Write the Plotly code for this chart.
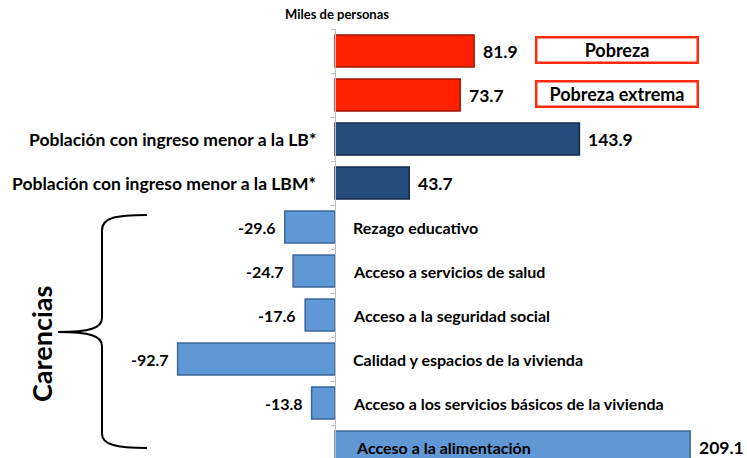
import plotly.graph_objects as go

categories = ["Pobreza", "Pobreza extrema",
              "Población con ingreso menor a la LB*",
              "Población con ingreso menor a la LBM*",
              "Rezago educativo", "Acceso a servicios de salud",
              "Acceso a la seguridad social", "Calidad y espacios de la vivienda",
              "Acceso a los servicios básicos de la vivienda",
              "Acceso a la alimentación"]
values = [81.9, 73.7, 143.9, 43.7, -29.6, -24.7, -17.6, -92.7, -13.8, 209.1]
groups = ["pobreza", "pobreza", "ingreso", "ingreso",
          "carencia", "carencia", "carencia", "carencia", "carencia", "carencia"]

fill = {"pobreza": "#FF2200", "ingreso": "#244B79", "carencia": "#5F98D4"}
edge = {"pobreza": "#A01500", "ingreso": "#122A4C", "carencia": "#3B679B"}

W, H = 747, 458
TOP = 29
XMIN, XMAX = -197.3, 242.6
FONT = "Lato"

fig = go.Figure()
fig.add_trace(go.Bar(
    y=categories, x=values, orientation="h",
    marker=dict(color=[fill[g] for g in groups],
                line=dict(color=[edge[g] for g in groups], width=1.5)),
    hoverinfo="skip", cliponaxis=False,
))

ann = []
for i, (c, v, g) in enumerate(zip(categories, values, groups)):
    big = g != "carencia" or v > 0
    ann.append(dict(x=v, y=c, xref="x", yref="y", text=f"{v:.1f}",
                    xanchor="left" if v > 0 else "right", yanchor="middle",
                    xshift=7 if v > 0 else -7, showarrow=False,
                    font=dict(family=FONT, size=17.5 if big else 16, color="black", weight="bold")))
    if g == "ingreso":
        ann.append(dict(x=0, y=c, xref="x", yref="y", text=c, xanchor="right", yanchor="middle",
                        xshift=-17, showarrow=False,
                        font=dict(family=FONT, size=17.5, color="black", weight="bold")))
    elif g == "carencia":
        ann.append(dict(x=0, y=c, xref="x", yref="y", text=c, xanchor="left", yanchor="middle",
                        xshift=16 if v < 0 else 19, showarrow=False,
                        font=dict(family=FONT, size=16, color="black", weight="bold")))
    elif g == "pobreza":
        ann.append(dict(x=617 / W, y=c, xref="paper", yref="y", text=c,
                        xanchor="center", yanchor="middle",
                        showarrow=False, width=157, height=21, yshift=1,
                        bordercolor="#FF2A10", borderwidth=2.5, bgcolor="white",
                        font=dict(family=FONT, size=18, color="black", weight="bold")))

ann.append(dict(x=337 / W, y=(H - 14) / (H - TOP), xref="paper", yref="paper",
                text="Miles de personas", showarrow=False, xanchor="center", yanchor="middle",
                font=dict(family=FONT, size=13, color="black", weight="bold")))
ann.append(dict(x=41 / W, y=(H - 344) / (H - TOP), xref="paper", yref="paper",
                text="Carencias", showarrow=False, textangle=-90,
                xanchor="center", yanchor="middle",
                font=dict(family=FONT, size=27, color="black", weight="bold")))


def px(x, y):
    return f"{x / W:.5f},{(H - y) / (H - TOP):.5f}"


brace = ("M " + px(147, 215) + " C " + px(115, 215) + " " + px(102, 218) + " " + px(102, 230)
         + " L " + px(102, 318) + " C " + px(102, 328) + " " + px(90, 332) + " " + px(58, 332)
         + " C " + px(90, 332) + " " + px(102, 336) + " " + px(102, 346)
         + " L " + px(102, 434) + " C " + px(102, 444) + " " + px(115, 448) + " " + px(147, 448))

fig.update_layout(
    width=W, height=H,
    margin=dict(l=0, r=0, t=TOP, b=0, autoexpand=False),
    plot_bgcolor="white", paper_bgcolor="white",
    showlegend=False, bargap=0.27,
    annotations=ann,
    shapes=[dict(type="path", path=brace, xref="paper", yref="paper",
                 line=dict(color="black", width=2))],
    xaxis=dict(range=[XMIN, XMAX], visible=False, fixedrange=True),
    yaxis=dict(categoryorder="array", categoryarray=categories,
               range=[9.25, -0.5], showticklabels=False, showgrid=False,
               zeroline=False, showline=True, linecolor="#BFBFBF", linewidth=1,
               ticks="outside", tickson="boundaries", ticklen=4, tickcolor="#BFBFBF",
               anchor="free", position=(0 - XMIN) / (XMAX - XMIN), fixedrange=True),
)

fig.write_html("out.html", config={"displayModeBar": False},
               post_script="document.body.style.margin='0';document.body.style.overflow='hidden';")
